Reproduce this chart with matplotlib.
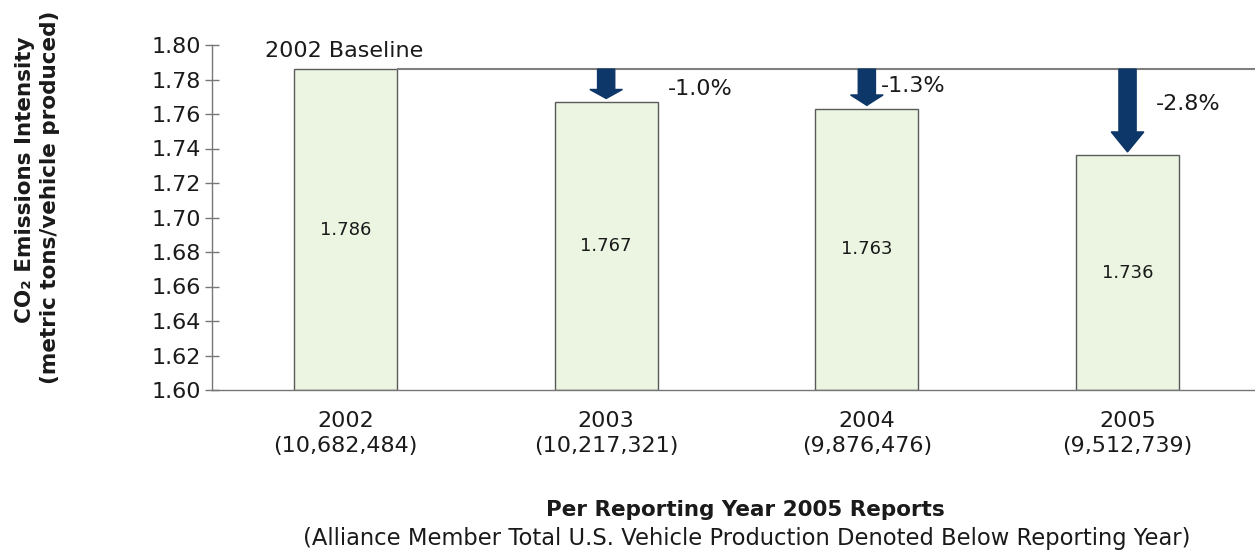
import matplotlib
matplotlib.use("Agg")
import matplotlib.pyplot as plt
from matplotlib.patches import FancyArrow

plt.rcParams['font.family'] = ['DejaVu Sans']

years = ["2002", "2003", "2004", "2005"]
production = ["10,682,484", "10,217,321", "9,876,476", "9,512,739"]
intensity = [1.786, 1.767, 1.763, 1.736]
pct_labels = [None, "-1.0%", "-1.3%", "-2.8%"]
yticks = [1.60, 1.62, 1.64, 1.66, 1.68, 1.70, 1.72, 1.74, 1.76, 1.78, 1.80]

# layout for the percentage labels (x offset from bar center, y in data units)
pct_pos = [None, (0.235, 1.7745), (0.054, 1.7762), (0.107, 1.7658)]

baseline = intensity[0]
text_col = "#1a1a1a"
navy = "#0d3768"

fig = plt.figure(figsize=(12.55, 5.54), dpi=100)
ax = fig.add_axes([212 / 1255, 1 - 390 / 554, 1 - 212 / 1255, (390 - 45) / 554])

x = list(range(len(years)))
bw = 0.395
ax.bar(x, [v - 1.60 for v in intensity], bottom=1.60, width=bw,
       color="#ebf5e1", edgecolor="#5a5a5a", linewidth=1.0, zorder=2)

ax.set_xlim(-0.512, 3.489)
ax.set_ylim(1.60, 1.80)
ax.set_yticks(yticks)
ax.set_yticklabels([f"{t:.2f}" for t in yticks], fontsize=16, color=text_col)
ax.set_xticks(x)
ax.set_xticklabels([f"{y}\n({p})" for y, p in zip(years, production)],
                   fontsize=16, color=text_col, linespacing=1.35)
ax.tick_params(axis='x', length=0, pad=15)
ax.tick_params(axis='y', direction='inout', length=10, width=1, color="#777777", pad=3)

for s in ["top", "right"]:
    ax.spines[s].set_visible(False)
for s in ["left", "bottom"]:
    ax.spines[s].set_color("#777777")
    ax.spines[s].set_linewidth(1.0)

# baseline line
ax.plot([bw / 2, 3.489], [baseline, baseline], color="#7f7f7f", lw=1.5, zorder=3,
        solid_capstyle='butt')
ax.text(0 - 0.31, baseline + 0.0045, "2002 Baseline", fontsize=16, color=text_col,
        ha="left", va="bottom")

# value labels in the middle of each bar
for xi, v in zip(x, intensity):
    ax.text(xi, (1.60 + v) / 2, f"{v:.3f}", ha="center", va="center",
            fontsize=13, color=text_col, zorder=4)

# arrows and percentage labels
for xi, v, lab, pos in zip(x, intensity, pct_labels, pct_pos):
    if lab is None:
        continue
    end = v + 0.002
    drop = baseline - end
    hl = 0.206 * (baseline - v) + 0.0013
    arr = FancyArrow(xi, baseline, 0, -drop, width=0.066, head_width=0.125,
                     head_length=hl, length_includes_head=True,
                     color=navy, zorder=5)
    ax.add_patch(arr)
    ax.text(xi + pos[0], pos[1], lab, ha="left", va="center", fontsize=16,
            color=text_col, zorder=5)

# axis titles
fig.text(745 / 1255, 1 - 510 / 554, "Per Reporting Year 2005 Reports",
         ha="center", va="center", fontsize=15.5, fontweight="bold", color=text_col)
fig.text(747 / 1255, 1 - 538 / 554,
         "(Alliance Member Total U.S. Vehicle Production Denoted Below Reporting Year)",
         ha="center", va="center", fontsize=16.3, color=text_col)

fig.text(25 / 1255, 1 - 180 / 554, "CO\u2082 Emissions Intensity", rotation=90,
         ha="center", va="center", fontsize=15.5, fontweight="bold", color=text_col)
fig.text(50 / 1255, 1 - 197 / 554, "(metric tons/vehicle produced)", rotation=90,
         ha="center", va="center", fontsize=15.5, fontweight="bold", color=text_col)

fig.savefig("out.png", dpi=100)
